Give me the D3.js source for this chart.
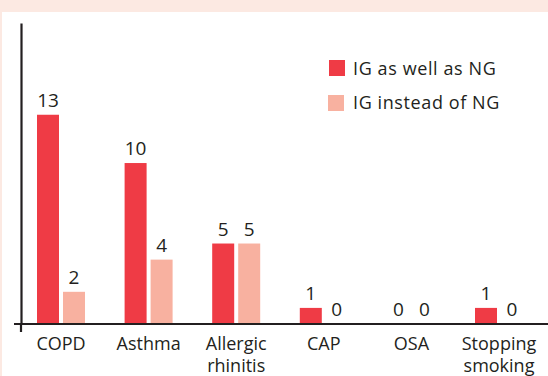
<!DOCTYPE html>
<html>
<head>
<meta charset="utf-8">
<script src="https://cdn.jsdelivr.net/npm/d3@7"></script>
<style>
  html, body { margin: 0; padding: 0; background: #fce9e2; }
  svg { display: block; }
  text { font-family: "Open Sans", sans-serif; fill: #231f20; }
</style>
</head>
<body>
<svg id="chart" width="548" height="376"></svg>
<script>
const categories = ["COPD", "Asthma", "Allergic rhinitis", "CAP", "OSA", "Stopping smoking"];
const categoryLines = [["COPD"], ["Asthma"], ["Allergic", "rhinitis"], ["CAP"], ["OSA"], ["Stopping", "smoking"]];
const seriesNames = ["IG as well as NG", "IG instead of NG"];
const seriesWell = [13, 10, 5, 1, 0, 1];
const seriesInstead = [2, 4, 5, 0, 0, 0];
const colors = ["#ef3b45", "#f8b1a0"];

const svg = d3.select("#chart");
svg.append("rect").attr("x", 2).attr("y", 12).attr("width", 546).attr("height", 364).attr("fill", "#ffffff");

const baseY = 324;
const x = d3.scalePoint().domain(categories).range([61, 499]);
const xs = d3.scaleBand().domain(seriesNames).range([-24, 24]).paddingInner(4 / 26).paddingOuter(0);
const y = d3.scaleLinear().domain([0, 18.7]).range([baseY, 23]);

const data = [];
categories.forEach((c, i) => {
  data.push({ cat: c, s: seriesNames[0], v: seriesWell[i] });
  data.push({ cat: c, s: seriesNames[1], v: seriesInstead[i] });
});

const g = svg.append("g");
g.selectAll("rect.bar").data(data).enter().append("rect")
  .attr("class", "bar")
  .attr("x", d => x(d.cat) + xs(d.s))
  .attr("width", xs.bandwidth())
  .attr("y", d => y(d.v))
  .attr("height", d => baseY - y(d.v))
  .attr("fill", d => colors[seriesNames.indexOf(d.s)]);

g.selectAll("text.val").data(data).enter().append("text")
  .attr("class", "val")
  .attr("x", d => x(d.cat) + xs(d.s) + xs.bandwidth() / 2)
  .attr("y", d => y(d.v) - 8)
  .attr("text-anchor", "middle")
  .attr("font-size", 19)
  .text(d => d.v);

// axes
const yAxis = d3.axisLeft(y).tickValues([]).tickSizeOuter(0);
svg.append("g").attr("transform", "translate(21,0)").call(yAxis)
  .select(".domain").attr("stroke", "#231f20").attr("stroke-width", 2.2);
svg.append("line").attr("x1", 21).attr("x2", 21).attr("y1", baseY).attr("y2", 332)
  .attr("stroke", "#231f20").attr("stroke-width", 2.2);
const xAxis = d3.axisBottom(x).tickValues([]).tickSizeOuter(0);
const xg = svg.append("g").attr("transform", `translate(0,${baseY})`).call(xAxis);
xg.select(".domain").attr("d", "M14,0H548").attr("stroke", "#231f20").attr("stroke-width", 2.2);

// category labels
categories.forEach((c, i) => {
  const t = svg.append("text")
    .attr("x", x(c))
    .attr("y", 350)
    .attr("text-anchor", "middle")
    .attr("font-size", 18);
  categoryLines[i].forEach((ln, j) => {
    t.append("tspan").attr("x", x(c)).attr("dy", j === 0 ? 0 : 22).text(ln);
  });
});

// legend
const leg = svg.append("g");
seriesNames.forEach((s, i) => {
  leg.append("rect").attr("x", 329 - i).attr("y", 60 + i * 35).attr("width", 16).attr("height", 16).attr("fill", colors[i]);
  leg.append("text").attr("x", 353).attr("y", 75 + i * 34).attr("font-size", 18).attr("letter-spacing", 0.6).text(s);
});
</script>
</body>
</html>
